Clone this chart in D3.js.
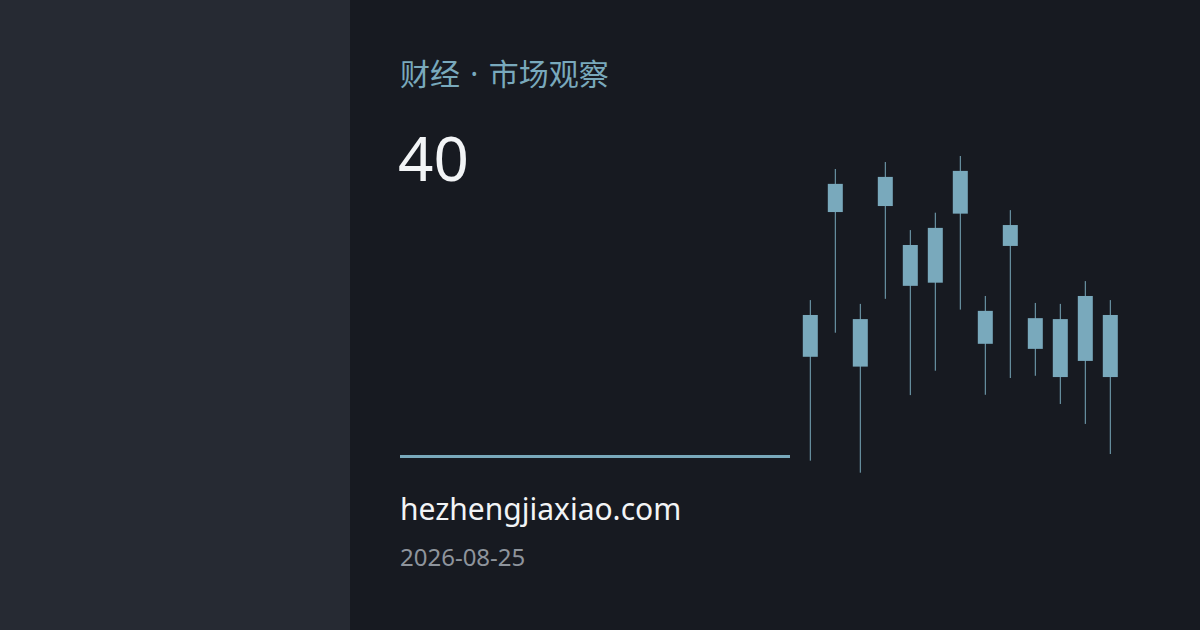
<!DOCTYPE html>
<html>
<head>
<meta charset="utf-8">
<script src="https://cdn.jsdelivr.net/npm/d3@7"></script>
<style>
  html, body { margin: 0; padding: 0; background: #171a21; }
  svg { display: block; }
</style>
</head>
<body>
<div class="chart"></div>
<script>
// card texts
var kicker = "财经 · 市场观察";
var bigNumber = "40";
var site = "hezhengjiaxiao.com";
var dateText = "2026-08-25";

// candle data (arbitrary 0-100 units)
var days = ["d1", "d2", "d3", "d4", "d5", "d6", "d7", "d8", "d9", "d10", "d11", "d12", "d13"];
var openVals  = [36.6, 82.3, 33.5, 84.2, 59.0, 60.0, 81.8, 40.7, 71.6, 39.1, 30.2, 35.3, 30.2];
var closeVals = [49.8, 91.2, 48.5, 93.4, 71.9, 77.3, 95.3, 51.1, 78.2, 48.8, 48.5, 55.8, 49.8];
var highVals  = [54.5, 95.9, 53.3, 98.1, 76.6, 82.1, 100, 55.8, 82.9, 53.6, 53.3, 60.5, 54.5];
var lowVals   = [3.8, 44.2, 0, 54.9, 24.5, 32.2, 51.5, 24.6, 29.9, 30.6, 21.7, 15.4, 5.9];

var svgWidth = 1200;
var svgHeight = 630;
var accent = "#79a9bc";

var svg = d3.select(".chart")
  .append("svg")
  .attr("width", svgWidth)
  .attr("height", svgHeight);

// backgrounds
svg.append("rect")
  .attr("width", svgWidth)
  .attr("height", svgHeight)
  .attr("fill", "#171a21");

svg.append("rect")
  .attr("width", 350)
  .attr("height", svgHeight)
  .attr("fill", "#262a33");

// texts
var sans = "'Noto Sans', 'Noto Sans CJK SC', sans-serif";

svg.append("text")
  .attr("x", 400)
  .attr("y", 85)
  .attr("font-family", sans)
  .attr("font-size", 30)
  .attr("word-spacing", 2.5)
  .attr("fill", accent)
  .text(kicker);

svg.append("text")
  .attr("x", 398)
  .attr("y", 181)
  .attr("font-family", sans)
  .attr("font-size", 62)
  .attr("fill", "#f2f4f6")
  .text(bigNumber);

svg.append("line")
  .attr("x1", 400)
  .attr("x2", 790)
  .attr("y1", 456.5)
  .attr("y2", 456.5)
  .attr("stroke", accent)
  .attr("stroke-width", 3);

svg.append("text")
  .attr("x", 400)
  .attr("y", 520)
  .attr("font-family", sans)
  .attr("font-size", 30)
  .attr("fill", "#f2f4f6")
  .text(site);

svg.append("text")
  .attr("x", 400)
  .attr("y", 566)
  .attr("font-family", sans)
  .attr("font-size", 24)
  .attr("fill", "#8e949c")
  .text(dateText);

// candlesticks
var dataset = days.map(function(d, i) {
  return { day: d, open: openVals[i], close: closeVals[i], high: highVals[i], low: lowVals[i] };
});

var xBand = d3.scaleBand()
  .domain(days)
  .range([797.8, 1122.8])
  .paddingInner(0.4)
  .paddingOuter(0.2);

var yLinear = d3.scaleLinear()
  .domain([0, 100])
  .range([472.7, 156]);

var candles = svg.append("g").selectAll("g")
  .data(dataset)
  .enter()
  .append("g");

candles.append("line")
  .attr("x1", d => xBand(d.day) + xBand.bandwidth() / 2)
  .attr("x2", d => xBand(d.day) + xBand.bandwidth() / 2)
  .attr("y1", d => yLinear(d.high))
  .attr("y2", d => yLinear(d.low))
  .attr("stroke", accent)
  .attr("stroke-width", 1);

candles.append("rect")
  .attr("x", d => xBand(d.day))
  .attr("width", xBand.bandwidth())
  .attr("y", d => yLinear(Math.max(d.open, d.close)))
  .attr("height", d => Math.abs(yLinear(d.open) - yLinear(d.close)))
  .attr("fill", accent);
</script>
</body>
</html>
